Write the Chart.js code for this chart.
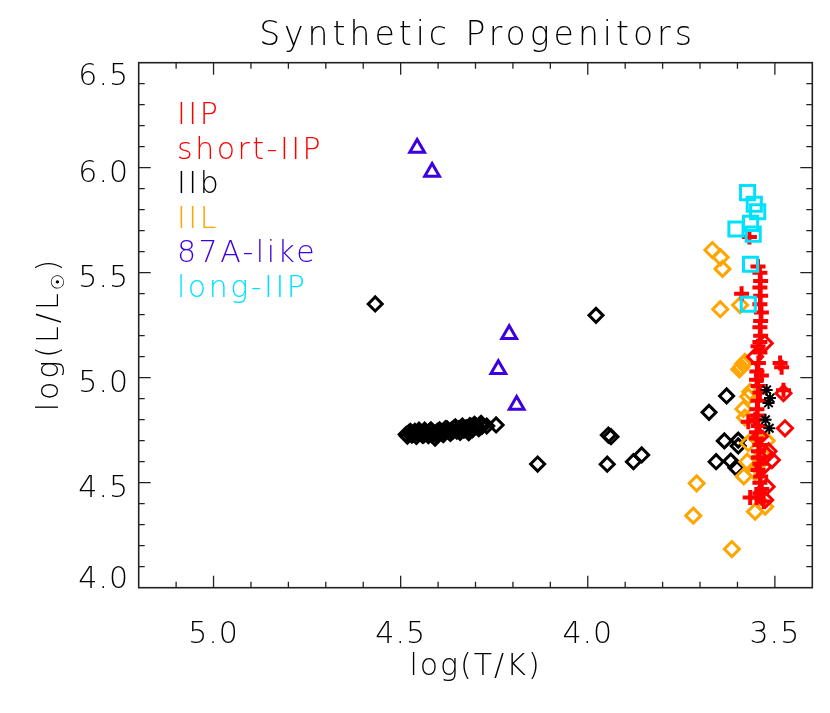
<!DOCTYPE html>
<html><head><meta charset="utf-8">
<script src="https://cdn.jsdelivr.net/npm/chart.js@4"></script>
<style>html,body{margin:0;padding:0;background:#fff}#wrap{width:830px;height:713px}</style>
</head><body><div id="wrap"><canvas id="c" width="830" height="713"></canvas></div>
<script>
// ---------- text ----------
const chartTitle = 'Synthetic Progenitors';
const xTitle = 'log(T/K)';
const yTitleMain = 'log(L/L';
const yTitleSub = '\u2609';
const yTitleEnd = ')';
const xTickLabels = [5.0, 4.5, 4.0, 3.5];
const yTickLabels = [4.0, 4.5, 5.0, 5.5, 6.0, 6.5];
const legendNames = ['IIP', 'short-IIP', 'IIb', 'IIL', '87A-like', 'long-IIP'];
const legendColors = ['#ff0000', '#ff0000', '#000000', '#ffa500', '#3c00e0', '#00e1ff'];

// ---------- data: log(T/K), log(L/Lsun) ----------
// IIP (red plus)
const iipT = [3.545,3.540,3.538,3.540,3.538,3.540,3.536,3.538,3.540,3.538,3.540,3.545,3.540,3.544,3.548,3.549,3.545,3.540,3.545,3.548,3.546,3.544,3.549,3.549,3.540,3.544,3.544,3.540,3.545,3.538,3.540,3.535,3.540,3.549,3.530,
              3.568,3.589,3.486,3.482,3.477,3.571,3.566,3.553,3.536,3.542];
const iipL = [5.53,5.50,5.46,5.43,5.39,5.35,5.31,5.27,5.24,5.20,5.17,5.15,5.12,5.07,5.03,4.99,4.96,4.93,4.89,4.85,4.82,4.77,4.74,4.71,4.68,4.65,4.62,4.59,4.56,4.53,4.50,4.47,4.45,4.43,4.41,
              5.67,5.40,5.07,5.05,4.94,4.79,4.43,4.80,5.01,4.62];
// short-IIP (red diamonds)
const shortT = [3.527,3.553,3.477,3.473,3.522,3.508,3.531,3.522,3.526,3.540,3.517];
const shortL = [5.164,5.100,4.926,4.759,4.632,4.608,4.576,4.481,4.418,4.720,4.650];
// IIb (black diamonds)
const iibT = [4.568,3.978,
              4.485,4.478,4.470,4.462,4.455,4.448,4.441,4.436,4.430,4.422,4.415,4.408,4.402,4.396,4.390,4.383,4.376,4.370,4.364,4.357,4.350,4.344,4.338,4.331,4.325,4.318,4.312,4.306,4.300,4.294,4.288,4.283,
              4.482,4.474,4.466,4.458,4.451,4.444,4.438,4.433,4.426,4.419,4.412,4.405,4.399,4.393,4.386,4.380,4.373,4.367,4.361,4.354,4.347,4.341,4.335,4.328,4.322,4.315,4.309,4.303,4.297,4.291,4.285,
              4.270,4.245,4.134,3.945,3.938,3.948,3.878,3.856,
              3.629,3.676,3.635,3.598,3.598,3.657,3.618,3.604];
const iibL = [5.351,5.297,
              4.730,4.738,4.727,4.745,4.735,4.742,4.725,4.750,4.738,4.746,4.731,4.712,4.744,4.752,4.737,4.748,4.756,4.741,4.752,4.760,4.745,4.757,4.764,4.750,4.761,4.738,4.768,4.758,4.772,4.763,4.776,4.768,
              4.722,4.745,4.733,4.720,4.750,4.736,4.728,4.742,4.724,4.752,4.738,4.728,4.734,4.745,4.729,4.758,4.748,4.735,4.744,4.766,4.752,4.740,4.770,4.756,4.748,4.772,4.752,4.778,4.768,4.758,4.782,
              4.770,4.775,4.589,4.727,4.719,4.588,4.600,4.632,
              4.913,4.835,4.699,4.703,4.675,4.600,4.603,4.571];
// IIb (black asterisks)
const iibStarT = [3.522,3.513,3.517,3.525,3.515];
const iibStarL = [4.942,4.903,4.880,4.800,4.759];
// IIL (orange diamonds)
const iilT = [3.667,3.645,3.640,3.646,3.593,3.595,3.590,3.585,3.580,3.566,3.571,3.584,3.571,3.549,3.522,3.574,3.583,3.553,3.549,3.709,3.718,3.553,3.526,3.615,3.535,3.580];
const iilL = [5.608,5.573,5.518,5.326,5.346,5.040,5.050,5.065,5.075,4.933,4.910,4.851,4.688,4.710,4.700,4.600,4.530,4.550,4.576,4.497,4.343,4.362,4.386,4.184,4.641,4.810];
// 87A-like (blue triangles)
const sn87T = [4.456,4.416,4.210,4.239,4.190];
const sn87L = [6.094,5.980,5.207,5.040,4.870];
// long-IIP (cyan squares)
const longT = [3.573,3.555,3.546,3.604,3.565,3.558,3.565,3.571];
const longL = [5.881,5.826,5.790,5.708,5.735,5.684,5.540,5.350];

function pts(xs, ys) { return xs.map((x, i) => ({ x: x, y: ys[i] })); }

const datasets = [
  { data: pts(longT, longL), pointStyle: 'rect', pointRadius: 10, borderWidth: 3, borderColor: '#00e1ff' },
  { data: pts(iibStarT, iibStarL), pointStyle: 'star', pointRadius: 6, borderWidth: 2, borderColor: '#000000' },
  { data: pts(iipT, iipL), pointStyle: 'cross', pointRadius: 7.5, borderWidth: 4, borderColor: '#ff0000' },
  { data: pts(shortT, shortL), pointStyle: 'rectRot', pointRadius: 7.5, borderWidth: 3, borderColor: '#ff0000' },
  { data: pts(iilT, iilL), pointStyle: 'rectRot', pointRadius: 7.5, borderWidth: 3, borderColor: '#ffa500' },
  { data: pts(sn87T, sn87L), pointStyle: 'triangle', pointRadius: 8.5, borderWidth: 3, borderColor: '#3c00e0' },
  { data: pts(iibT, iibL), pointStyle: 'rectRot', pointRadius: 7, borderWidth: 3, borderColor: '#000000' }
].map(d => Object.assign({ backgroundColor: 'rgba(0,0,0,0)', pointHoverRadius: d.pointRadius, showLine: false }, d));

const FONT = '"DejaVu Sans", sans-serif';
function font(sz) { return '200 ' + sz + 'px ' + FONT; }
function spacing(ctx, px) { if ('letterSpacing' in ctx) ctx.letterSpacing = px + 'px'; }

const framePlugin = {
  id: 'frame',
  beforeDatasetsDraw(chart) {
    const { ctx, chartArea: a, scales } = chart;
    const xs = scales.x, ys = scales.y;
    ctx.save();
    ctx.strokeStyle = '#222';
    ctx.lineWidth = 1.6;
    ctx.strokeRect(a.left, a.top, a.right - a.left, a.bottom - a.top);
    ctx.lineWidth = 1.3;
    ctx.beginPath();
    for (let k = 34; k <= 52; k++) {
      const v = k / 10;
      if (v <= 3.4 || v >= 5.2) continue;
      const p = xs.getPixelForValue(v);
      const len = (k % 5 === 0) ? 12 : 6;
      ctx.moveTo(p, a.bottom); ctx.lineTo(p, a.bottom - len);
      ctx.moveTo(p, a.top); ctx.lineTo(p, a.top + len);
    }
    for (let k = 40; k <= 65; k++) {
      const v = k / 10;
      if (v <= 4.0 || v >= 6.5) continue;
      const p = ys.getPixelForValue(v);
      const len = (k % 5 === 0) ? 12 : 6;
      ctx.moveTo(a.left, p); ctx.lineTo(a.left + len, p);
      ctx.moveTo(a.right, p); ctx.lineTo(a.right - len, p);
    }
    ctx.stroke();
    ctx.restore();
  },
  afterDraw(chart) {
    const { ctx, chartArea: a, scales } = chart;
    const xs = scales.x, ys = scales.y;
    ctx.save();
    ctx.fillStyle = '#000';
    // title
    ctx.font = font(33);
    spacing(ctx, 4);
    ctx.textAlign = 'center';
    ctx.textBaseline = 'alphabetic';
    ctx.fillText(chartTitle, (a.left + a.right) / 2 + 2, 45);
    // x tick labels
    ctx.font = font(30);
    spacing(ctx, 1);
    xTickLabels.forEach(v => {
      ctx.fillText(v.toFixed(1), xs.getPixelForValue(v), 643);
    });
    // x title
    spacing(ctx, 2);
    ctx.fillText(xTitle, (a.left + a.right) / 2, 675);
    // y tick labels
    ctx.textAlign = 'right';
    spacing(ctx, 1);
    yTickLabels.forEach(v => {
      let b = ys.getPixelForValue(v) + 14;
      if (b < a.top + 22) b = a.top + 22;
      if (b > a.bottom) b = a.bottom;
      ctx.fillText(v.toFixed(1), 129, b);
    });
    // y title (rotated, with subscript sun)
    ctx.save();
    ctx.translate(58, 334);
    ctx.rotate(-Math.PI / 2);
    ctx.textAlign = 'left';
    spacing(ctx, 3);
    ctx.font = font(30);
    const w1 = ctx.measureText(yTitleMain).width;
    ctx.font = font(18);
    const w2 = ctx.measureText(yTitleSub).width;
    ctx.font = font(30);
    const w3 = ctx.measureText(yTitleEnd).width;
    let x0 = -(w1 + w2 + w3) / 2;
    ctx.fillText(yTitleMain, x0, 0);
    ctx.font = font(18);
    ctx.fillText(yTitleSub, x0 + w1, 6);
    ctx.font = font(30);
    ctx.fillText(yTitleEnd, x0 + w1 + w2, 0);
    ctx.restore();
    // legend text
    ctx.textAlign = 'left';
    ctx.font = font(30);
    spacing(ctx, 2.5);
    legendNames.forEach((n, i) => {
      ctx.fillStyle = legendColors[i];
      ctx.fillText(n, 177, 124 + i * 34.6);
    });
    ctx.restore();
  }
};

new Chart(document.getElementById('c'), {
  type: 'scatter',
  data: { datasets: datasets },
  options: {
    responsive: false,
    animation: false,
    layout: { padding: { left: 0, right: 17.7, top: 62.7, bottom: 0 } },
    plugins: { legend: { display: false }, tooltip: { enabled: false }, title: { display: false } },
    scales: {
      x: {
        type: 'linear', reverse: true, min: 3.4, max: 5.2,
        grid: { display: false, drawTicks: false }, border: { display: false },
        ticks: { display: false },
        afterFit(s) { s.height = 125.3; }
      },
      y: {
        type: 'linear', min: 4.0, max: 6.5,
        grid: { display: false, drawTicks: false }, border: { display: false },
        ticks: { display: false },
        afterFit(s) { s.width = 138.7; }
      }
    }
  },
  plugins: [framePlugin]
});
</script>
</body></html>
